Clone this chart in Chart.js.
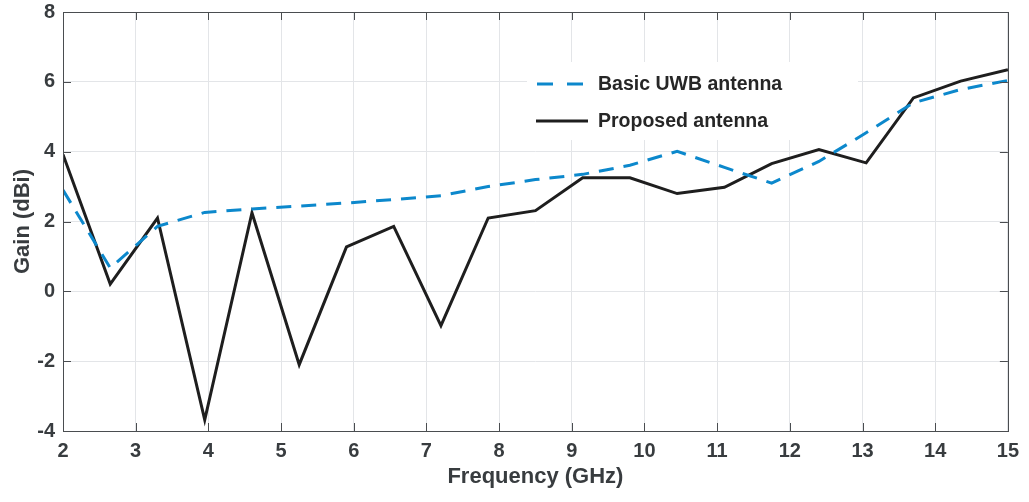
<!DOCTYPE html>
<html>
<head>
<meta charset="utf-8">
<script src="https://cdn.jsdelivr.net/npm/chart.js@4.4.1/dist/chart.umd.min.js"></script>
<style>
  html, body { margin: 0; padding: 0; background: #fff; }
  #wrap { width: 1029px; height: 502px; position: relative; }
</style>
</head>
<body>
<div id="wrap"><canvas id="gainChart" width="1029" height="502"></canvas></div>
<script>
// 周波数 (GHz)
const freqs = [2, 2.65, 3.3, 3.95, 4.6, 5.25, 5.9, 6.55, 7.2, 7.85, 8.5,
  9.15, 9.8, 10.45, 11.1, 11.75, 12.4, 13.05, 13.7, 14.35, 15];

// 利得 (dBi)
const basicGain = [2.9, 0.67, 1.86, 2.26, 2.36, 2.44, 2.53, 2.63, 2.74, 3.0, 3.2,
  3.35, 3.61, 4.01, 3.55, 3.1, 3.72, 4.54, 5.4, 5.78, 6.04];
const proposedGain = [3.92, 0.21, 2.1, -3.68, 2.25, -2.1, 1.27, 1.86, -0.98, 2.1, 2.31,
  3.25, 3.25, 2.8, 2.98, 3.66, 4.06, 3.68, 5.54, 6.02, 6.35];

const seriesNames = ["Basic UWB antenna", "Proposed antenna"];
const xTicks = [2, 3, 4, 5, 6, 7, 8, 9, 10, 11, 12, 13, 14, 15];
const yTicks = [-4, -2, 0, 2, 4, 6, 8];

const FONT = "'Liberation Sans', Arial, Helvetica, sans-serif";
const TEXT_COLOR = "#383c3f";
const BLUE = "#0c88cc";
const BLACK = "#1e1e1e";

const toPoints = (ys) => freqs.map((x, i) => ({ x: x, y: ys[i] }));

// 枠線と内向きの目盛り (上下左右)
const boxPlugin = {
  id: "boxPlugin",
  afterDraw(chart) {
    const { ctx, chartArea: a, scales } = chart;
    const len = 8;
    ctx.save();
    ctx.strokeStyle = "#4a4d50";
    ctx.lineWidth = 1;
    ctx.beginPath();
    xTicks.forEach((v) => {
      const px = Math.round(scales.x.getPixelForValue(v)) + 0.5;
      ctx.moveTo(px, a.bottom); ctx.lineTo(px, a.bottom - len);
      ctx.moveTo(px, a.top); ctx.lineTo(px, a.top + len);
    });
    yTicks.forEach((v) => {
      const py = Math.round(scales.y.getPixelForValue(v)) + 0.5;
      ctx.moveTo(a.left, py); ctx.lineTo(a.left + len, py);
      ctx.moveTo(a.right, py); ctx.lineTo(a.right - len, py);
    });
    ctx.stroke();
    ctx.strokeRect(Math.round(a.left) + 0.5, Math.round(a.top) + 0.5,
      Math.round(a.right - a.left), Math.round(a.bottom - a.top));
    ctx.restore();
  }
};

// 凡例 (白背景でグリッドを隠す)
const legendPlugin = {
  id: "legendPlugin",
  beforeDatasetsDraw(chart) {
    const ctx = chart.ctx;
    ctx.save();
    ctx.fillStyle = "#fff";
    ctx.fillRect(527, 62, 331, 78);

    const rows = [
      { y: 84, color: BLUE, dash: [16, 14], x0: 537, x1: 583 },
      { y: 121, color: BLACK, dash: [], x0: 536, x1: 588 }
    ];
    chart.data.datasets.forEach((ds, i) => {
      const r = rows[i];
      ctx.strokeStyle = r.color;
      ctx.lineWidth = 3;
      ctx.setLineDash(r.dash);
      ctx.beginPath();
      ctx.moveTo(r.x0, r.y);
      ctx.lineTo(r.x1, r.y);
      ctx.stroke();
      ctx.setLineDash([]);
      ctx.fillStyle = "#262626";
      ctx.font = "bold 19.5px " + FONT;
      ctx.textBaseline = "middle";
      ctx.fillText(ds.label, 598, r.y + 1);
    });
    ctx.restore();
  }
};

const ctx = document.getElementById("gainChart").getContext("2d");
new Chart(ctx, {
  type: "line",
  data: {
    datasets: [
      {
        label: seriesNames[0],
        data: toPoints(basicGain),
        borderColor: BLUE,
        borderWidth: 3,
        borderDash: [15, 10],
        pointRadius: 0,
        tension: 0,
        fill: false
      },
      {
        label: seriesNames[1],
        data: toPoints(proposedGain),
        borderColor: BLACK,
        borderWidth: 3,
        borderJoinStyle: "miter",
        pointRadius: 0,
        tension: 0,
        fill: false
      }
    ]
  },
  options: {
    responsive: false,
    animation: false,
    layout: { padding: { top: 12, right: 20, left: 0, bottom: 0 } },
    plugins: {
      legend: { display: false },
      tooltip: { enabled: false }
    },
    scales: {
      x: {
        type: "linear",
        min: 2,
        max: 15,
        afterBuildTicks: (scale) => { scale.ticks = xTicks.map((v) => ({ value: v })); },
        afterFit: (scale) => { scale.height = 71; },
        grid: { color: "#e3e5e8", lineWidth: 1, drawTicks: false },
        border: { display: false },
        ticks: {
          padding: 10,
          color: TEXT_COLOR,
          font: { family: FONT, size: 20, weight: "bold", lineHeight: 1 }
        },
        title: {
          display: true,
          text: "Frequency (GHz)",
          color: TEXT_COLOR,
          font: { family: FONT, size: 22, weight: "bold" },
          padding: { top: 0, bottom: 12 }
        }
      },
      y: {
        min: -4,
        max: 8,
        afterBuildTicks: (scale) => { scale.ticks = yTicks.map((v) => ({ value: v })); },
        afterFit: (scale) => { scale.width = 63; },
        grid: { color: "#e3e5e8", lineWidth: 1, drawTicks: false },
        border: { display: false },
        ticks: {
          padding: 8,
          color: TEXT_COLOR,
          // lineHeight を小さくして上端の余白を詰める
          font: { family: FONT, size: 20, weight: "bold", lineHeight: 0.2 }
        },
        title: {
          display: true,
          text: "Gain (dBi)",
          color: TEXT_COLOR,
          font: { family: FONT, size: 22, weight: "bold" },
          padding: { top: 10, bottom: 0 }
        }
      }
    }
  },
  plugins: [legendPlugin, boxPlugin]
});
</script>
</body>
</html>
